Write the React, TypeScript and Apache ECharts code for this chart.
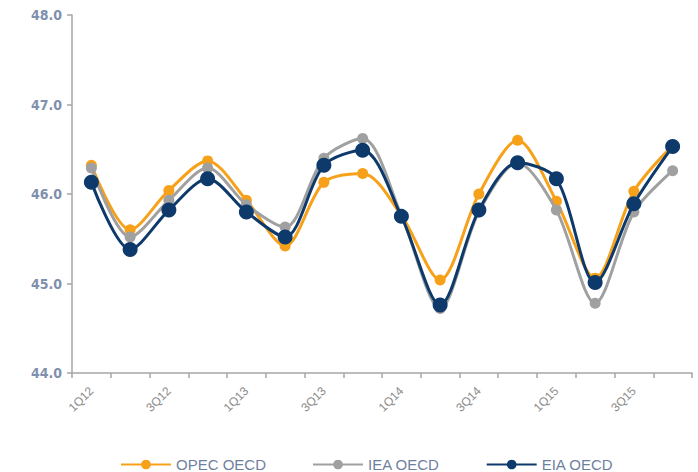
import React, { useEffect, useRef } from "react";
import * as echarts from "echarts";

const categories = ["1Q12","2Q12","3Q12","4Q12","1Q13","2Q13","3Q13","4Q13","1Q14","2Q14","3Q14","4Q14","1Q15","2Q15","3Q15","4Q15"];
const opecOECD = [46.32, 45.6, 46.04, 46.37, 45.93, 45.42, 46.13, 46.23, 45.76, 45.04, 46.0, 46.6, 45.92, 45.06, 46.03, 46.54];
const ieaOECD = [46.29, 45.52, 45.93, 46.29, 45.88, 45.63, 46.4, 46.62, 45.76, 44.72, 45.8, 46.35, 45.82, 44.78, 45.8, 46.26];
const eiaOECD = [46.13, 45.38, 45.82, 46.17, 45.8, 45.52, 46.32, 46.49, 45.75, 44.76, 45.82, 46.35, 46.17, 45.01, 45.89, 46.53];
const yTicks = { min: 44, max: 48, interval: 1 };

export default function App() {
  const ref = useRef<HTMLDivElement>(null);
  useEffect(() => {
    if (!ref.current) return;
    const chart = echarts.init(ref.current, undefined, { renderer: "svg" });
    const mk = (name: string, data: number[], color: string, size: number, z: number) => ({
      name,
      type: "line",
      data,
      smooth: 0.3,
      symbol: "circle",
      symbolSize: size,
      z,
      lineStyle: { color, width: 3 },
      itemStyle: { color },
    });
    chart.setOption({
      animation: false,
      grid: { left: 72, right: 6, top: 15, bottom: 99 },
      xAxis: {
        type: "category",
        data: categories,
        boundaryGap: true,
        axisLine: { lineStyle: { color: "#a6a6a6", width: 1.5 } },
        axisTick: { show: true, interval: 0, length: 5, lineStyle: { color: "#a6a6a6", width: 1.5 } },
        axisLabel: {
          interval: 1,
          rotate: 45,
          hideOverlap: false,
          color: "#8c8c8c",
          fontFamily: "Liberation Sans",
          fontSize: 12,
          margin: 16,
        },
        splitLine: { show: false },
      },
      yAxis: {
        type: "value",
        min: yTicks.min,
        max: yTicks.max,
        interval: yTicks.interval,
        axisLine: { show: true, lineStyle: { color: "#a6a6a6", width: 1.5 } },
        axisTick: { show: true, length: 5, lineStyle: { color: "#a6a6a6", width: 1.5 } },
        axisLabel: {
          formatter: (v: number) => v.toFixed(1),
          color: "#8090ad",
          fontFamily: "DejaVu Sans Condensed",
          fontWeight: "bold",
          fontSize: 14,
          margin: 10,
        },
        splitLine: { show: false },
      },
      legend: {
        top: 452,
        left: 115,
        itemWidth: 50,
        itemHeight: 12,
        itemGap: 46,
        textStyle: { color: "#6f7f9e", fontFamily: "Liberation Sans", fontSize: 15 },
        data: ["OPEC OECD", "IEA OECD", "EIA OECD"],
      },
      series: [
        mk("OPEC OECD", opecOECD, "#f7a11a", 11, 2),
        mk("IEA OECD", ieaOECD, "#a0a0a0", 11, 3),
        mk("EIA OECD", eiaOECD, "#0d3a6b", 15, 4),
      ],
    });
    return () => chart.dispose();
  }, []);
  return <div ref={ref} style={{ width: 698, height: 472, position: "absolute", left: 0, top: 0 }} />;
}
